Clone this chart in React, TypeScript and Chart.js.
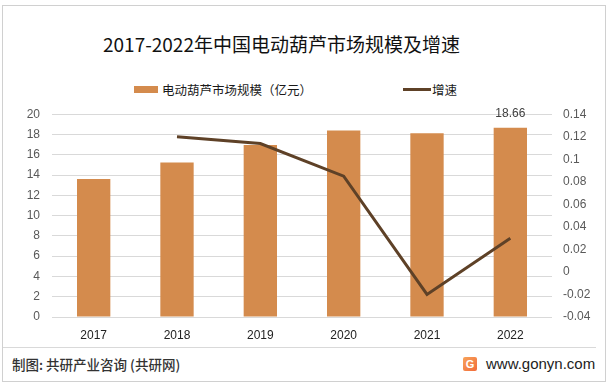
import React, { useEffect, useRef } from "react";
import { Chart, registerables } from "chart.js";

Chart.register(...registerables);

const years = ["2017", "2018", "2019", "2020", "2021", "2022"];
const marketSize = [13.6, 15.23, 16.96, 18.4, 18.12, 18.66];
const growth = [null, 0.12, 0.114, 0.085, -0.02, 0.03];
const labelledIndex = [5];

const TITLE = "2017-2022年中国电动葫芦市场规模及增速";
const BAR_LABEL = "电动葫芦市场规模（亿元）";
const LINE_LABEL = "增速";
const BAR_COLOR = "#D48B4D";
const LINE_COLOR = "#5E4127";
const CJK = '"Noto Sans CJK SC", "Noto Sans", sans-serif';
const LATIN = '"Liberation Sans", Arial, sans-serif';

const valueLabelPlugin = {
  id: "valueLabels",
  afterDatasetsDraw(chart: any) {
    const ctx = chart.ctx;
    const meta = chart.getDatasetMeta(1);
    ctx.save();
    ctx.fillStyle = "#404040";
    ctx.font = `12px ${LATIN}`;
    ctx.textAlign = "center";
    ctx.textBaseline = "bottom";
    labelledIndex.forEach((i) => {
      const el = meta.data[i];
      if (!el) return;
      ctx.fillText(String(marketSize[i]), el.x, el.y - 8);
    });
    ctx.restore();
  },
};

export default function App() {
  const canvasRef = useRef<HTMLCanvasElement | null>(null);

  useEffect(() => {
    document.body.style.margin = "0";
    const canvas = canvasRef.current;
    if (!canvas) return;
    const chart = new Chart(canvas, {
      data: {
        labels: years,
        datasets: [
          {
            type: "line" as const,
            label: LINE_LABEL,
            data: growth,
            yAxisID: "y1",
            borderColor: LINE_COLOR,
            backgroundColor: LINE_COLOR,
            borderWidth: 3,
            pointRadius: 0,
            tension: 0,
            order: 0,
          },
          {
            type: "bar" as const,
            label: BAR_LABEL,
            data: marketSize,
            yAxisID: "y",
            backgroundColor: BAR_COLOR,
            categoryPercentage: 1,
            barPercentage: 0.4,
            order: 1,
          },
        ],
      },
      options: {
        animation: false,
        responsive: false,
        maintainAspectRatio: false,
        layout: { padding: { top: 13, left: 0, right: 0, bottom: 0 } },
        plugins: {
          legend: { display: false },
          tooltip: { enabled: false },
          title: { display: false },
        },
        scales: {
          x: {
            grid: { display: false, drawTicks: false },
            border: { display: false },
            ticks: {
              color: "#222",
              font: { size: 12, family: LATIN },
              padding: 11,
            },
            afterFit(scale: any) {
              scale.height = 33;
            },
          },
          y: {
            position: "left",
            min: 0,
            max: 20,
            ticks: {
              stepSize: 2,
              color: "#595959",
              font: { size: 12, family: LATIN },
              padding: 12,
            },
            grid: { color: "#D9D9D9", drawTicks: false, lineWidth: 1 },
            border: { display: false },
            afterFit(scale: any) {
              scale.width = 52;
            },
          },
          y1: {
            position: "right",
            min: -0.04,
            max: 0.14,
            ticks: {
              stepSize: 0.02,
              color: "#595959",
              font: { size: 12, family: LATIN },
              padding: 11,
              callback: (v: any) => String(parseFloat(Number(v).toFixed(2))),
            },
            grid: { display: false, drawTicks: false },
            border: { display: false },
            afterFit(scale: any) {
              scale.width = 59;
            },
          },
        },
      } as any,
      plugins: [valueLabelPlugin],
    });
    return () => chart.destroy();
  }, []);

  return (
    <div
      style={{
        position: "relative",
        width: 611,
        height: 388,
        background: "#fff",
        overflow: "hidden",
      }}
    >
      <div
        style={{
          position: "absolute",
          left: 2,
          top: 5,
          width: 604,
          height: 377,
          border: "1px solid #D0D0D0",
          boxSizing: "border-box",
        }}
      />
      <div
        style={{
          position: "absolute",
          left: 103,
          top: 31,
          font: `19px ${CJK}`,
          color: "#111",
          lineHeight: "26px",
          whiteSpace: "nowrap",
        }}
      >
        {TITLE}
      </div>
      <div
        style={{
          position: "absolute",
          left: 134,
          top: 80,
          height: 18,
          display: "flex",
          alignItems: "center",
          font: `12.5px ${CJK}`,
          color: "#1a1a1a",
          whiteSpace: "nowrap",
        }}
      >
        <span style={{ display: "inline-block", width: 24, height: 7, background: BAR_COLOR, marginRight: 4 }} />
        <span>{BAR_LABEL}</span>
        <span style={{ display: "inline-block", width: 28, height: 3, background: LINE_COLOR, marginLeft: 91, marginRight: 1 }} />
        <span>{LINE_LABEL}</span>
      </div>
      <canvas
        ref={canvasRef}
        width={611}
        height={255}
        style={{ position: "absolute", left: 0, top: 95, width: 611, height: 255 }}
      />
      <div
        style={{
          position: "absolute",
          left: 3,
          top: 347,
          width: 593,
          height: 1,
          background: "#D9D9D9",
        }}
      />
      <div
        style={{
          position: "absolute",
          left: 12,
          top: 354,
          font: `500 13.5px ${CJK}`,
          color: "#333",
          lineHeight: "20px",
          whiteSpace: "nowrap",
        }}
      >
        制图: 共研产业咨询 (共研网)
      </div>
      <div
        style={{
          position: "absolute",
          left: 463,
          top: 357,
          width: 14,
          height: 14,
          borderRadius: 2,
          background: "linear-gradient(135deg, #F7A35A, #F26B3A)",
          color: "#fff",
          font: `bold 11px ${LATIN}`,
          lineHeight: "14px",
          textAlign: "center",
        }}
      >
        G
      </div>
      <div
        style={{
          position: "absolute",
          left: 486,
          top: 354,
          font: `15px ${LATIN}`,
          color: "#222",
          lineHeight: "20px",
          whiteSpace: "nowrap",
        }}
      >
        www.gonyn.com
      </div>
    </div>
  );
}
